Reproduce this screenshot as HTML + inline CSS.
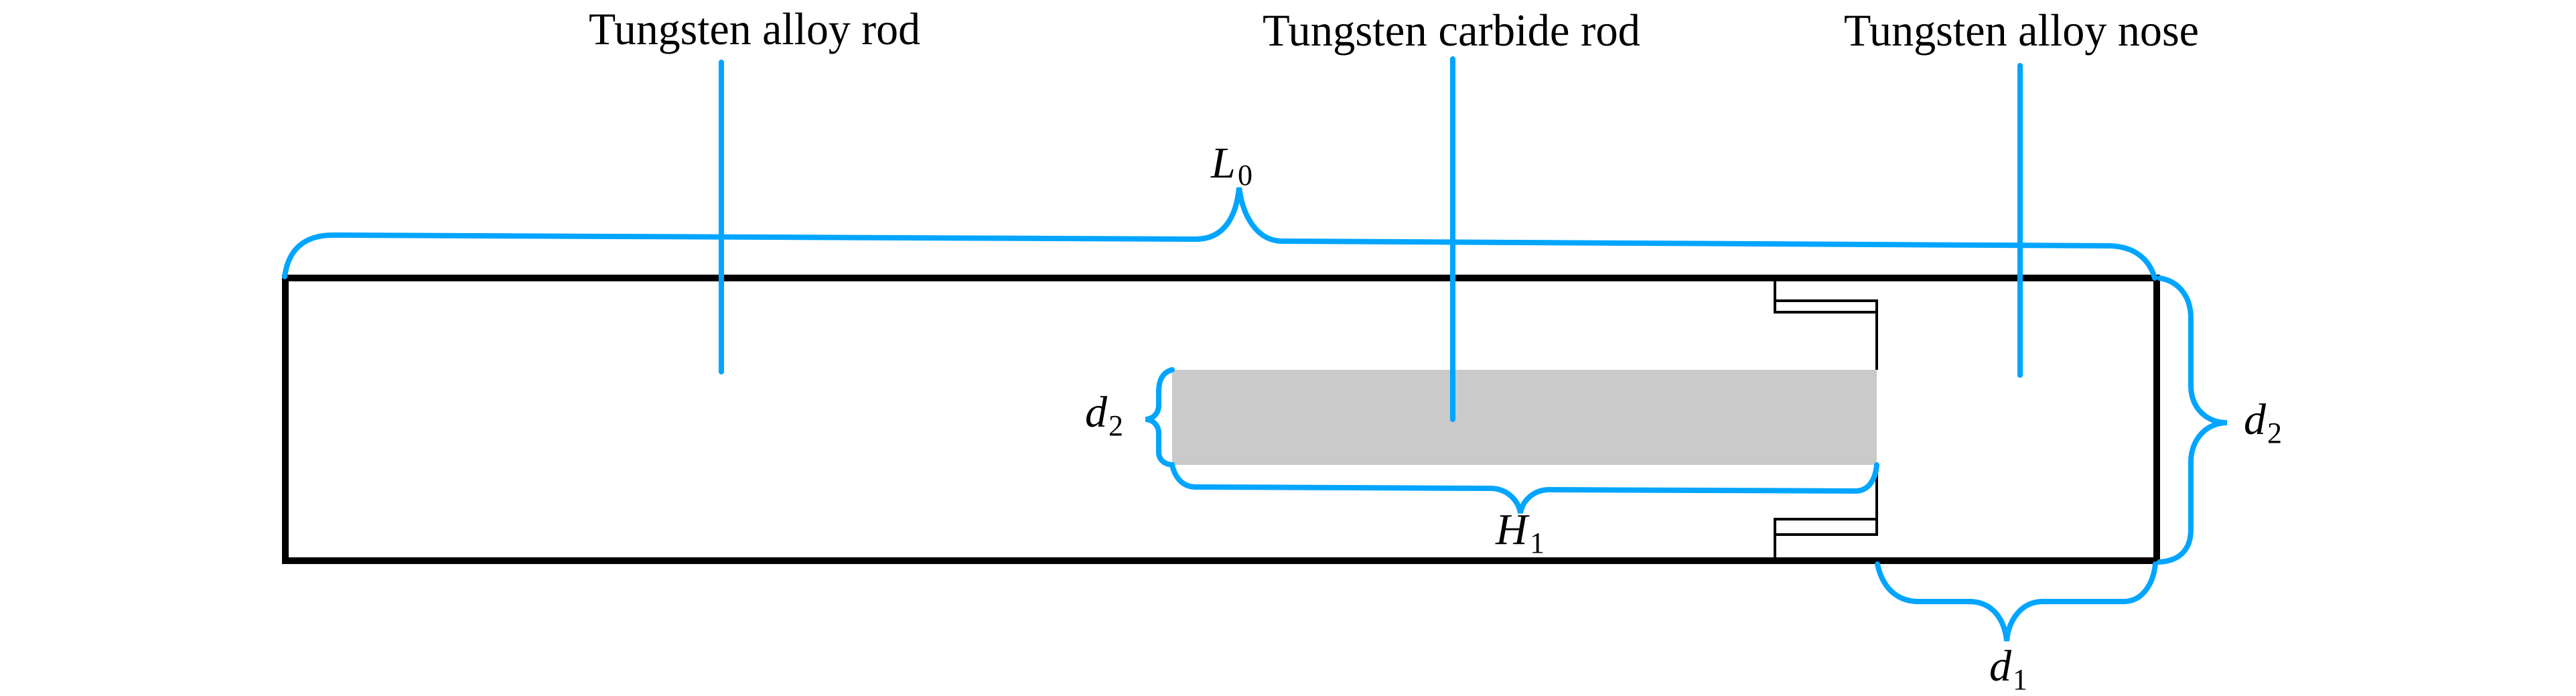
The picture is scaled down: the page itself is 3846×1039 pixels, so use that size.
<!DOCTYPE html>
<html><head><meta charset="utf-8"><style>
html,body{margin:0;padding:0;background:#fff;}
svg{display:block;}
text{font-family:"Liberation Serif",serif;fill:#000;}
</style></head><body>
<svg width="3846" height="1039" viewBox="0 0 3846 1039" xmlns="http://www.w3.org/2000/svg">
<rect x="1750" y="552" width="1052" height="142" fill="#cacaca"/>
<g fill="none" stroke="#000" stroke-width="4">
<path d="M2650 417 V466 H2802 M2650 449 H2802 V552"/>
<path d="M2802 694 V798 H2650 M2802 775 H2650 V835"/>
</g>
<rect x="426" y="415" width="2794" height="422" fill="none" stroke="#000" stroke-width="10"/>
<g fill="none" stroke="#00a5ff" stroke-width="8" stroke-linecap="round">
<line x1="1077" y1="93" x2="1077" y2="555"/>
<line x1="2169" y1="88" x2="2169" y2="626"/>
<line x1="3016" y1="98" x2="3016" y2="560"/>
<path d="M425 413 C430 375 452 351 497 351 L1785 357 C1830 357 1846 320 1850 280 C1855 320 1875 360 1915 360 L3150 367 C3190 368 3210 390 3217 415"/>
<path d="M3224 415 C3255 420 3271 445 3271 475 L3271 575 C3271 610 3295 631 3325 631 C3295 631 3271 655 3271 690 L3271 790 C3271 820 3255 837 3224 839"/>
<path d="M2803 842 C2810 875 2830 898 2865 898 L2940 898 C2975 898 2993 925 2996 957 C2999 925 3018 898 3050 898 L3170 898 C3200 898 3215 870 3218 842"/>
<path d="M1750 552 C1735 556 1730 568 1730 585 L1730 605 C1730 618 1720 626 1710 626 C1720 626 1730 634 1730 647 L1730 675 C1730 686 1738 693 1750 694 C1754 712 1765 727 1785 727 L2225 729 C2250 729 2267 747 2270 766 C2273 747 2290 731 2313 731 L2770 733 C2790 733 2800 716 2802 694"/>
</g>
<text x="879" y="66" font-size="68" textLength="495" lengthAdjust="spacingAndGlyphs">Tungsten alloy rod</text>
<text x="1885" y="68" font-size="68" textLength="564" lengthAdjust="spacingAndGlyphs">Tungsten carbide rod</text>
<text x="2753" y="68" font-size="68" textLength="530" lengthAdjust="spacingAndGlyphs">Tungsten alloy nose</text>
<g font-style="italic" font-size="66">
<text x="1808" y="265">L</text><text x="1848" y="276" font-style="normal" font-size="44">0</text>
<text x="1620" y="637">d</text><text x="1655" y="650" font-style="normal" font-size="44">2</text>
<text x="2233" y="812">H</text><text x="2284" y="825" font-style="normal" font-size="44">1</text>
<text x="3350" y="648">d</text><text x="3385" y="661" font-style="normal" font-size="44">2</text>
<text x="2970" y="1016">d</text><text x="3005" y="1029" font-style="normal" font-size="44">1</text>
</g>
</svg>
</body></html>
